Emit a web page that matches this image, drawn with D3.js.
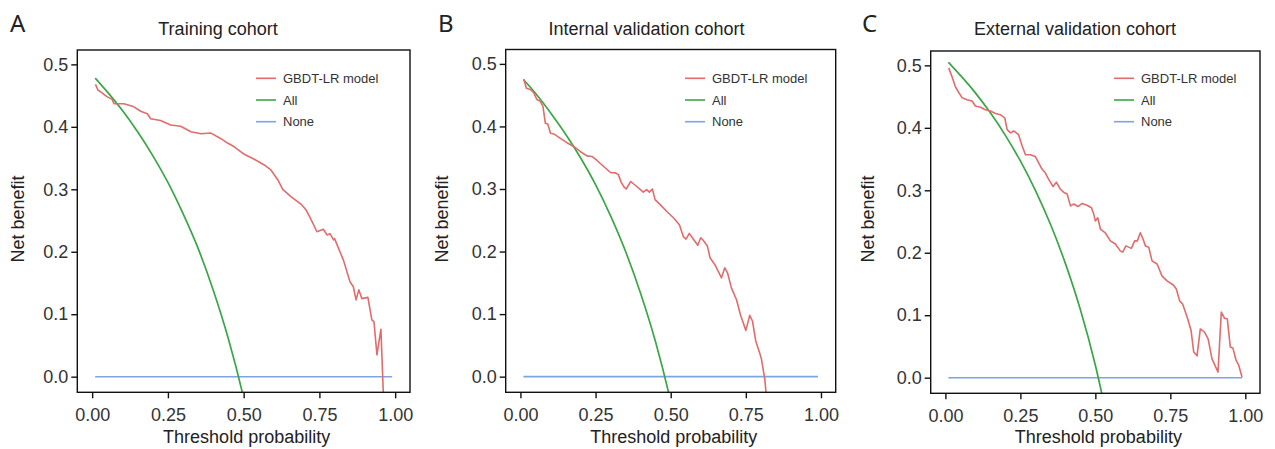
<!DOCTYPE html>
<html>
<head>
<meta charset="utf-8">
<script src="https://cdn.jsdelivr.net/npm/d3@7"></script>
<style>
body { margin: 0; background: #fff; }
text { font-family: "Liberation Sans", Arial, sans-serif; }
</style>
</head>
<body>
<svg id="chart" width="1275" height="449"></svg>
<script>
var panelLetters = ["A", "B", "C"];
var panelTitles = ["Training cohort", "Internal validation cohort", "External validation cohort"];
var seriesNames = ["GBDT-LR model", "All", "None"];
var xTicks = [0, 0.25, 0.5, 0.75, 1];
var yTicks = [0, 0.1, 0.2, 0.3, 0.4, 0.5];

// treat-all curve, read at these thresholds
var allThresholds = [0.01, 0.05, 0.10, 0.15, 0.20, 0.25, 0.30, 0.35, 0.40, 0.45, 0.50, 0.55];
var allTraining = [0.478, 0.456, 0.426, 0.392, 0.354, 0.311, 0.261, 0.205, 0.138, 0.060, -0.034, -0.149];
var allInternal = [0.475, 0.453, 0.422, 0.388, 0.350, 0.307, 0.257, 0.200, 0.133, 0.055, -0.040, -0.156];
var allExternal = [0.505, 0.484, 0.456, 0.424, 0.388, 0.347, 0.300, 0.246, 0.183, 0.109, 0.020, -0.089];

// treat-none line
var noneThresholds = [0.01, 0.99];
var noneValues = [0, 0];

// GBDT-LR model curves [threshold, net benefit]
var modelTraining = [
  [0.011, 0.468], [0.019, 0.459], [0.028, 0.456], [0.05, 0.448], [0.066, 0.444], [0.072, 0.437],
  [0.105, 0.437], [0.138, 0.432], [0.16, 0.425], [0.182, 0.421], [0.193, 0.413], [0.226, 0.41],
  [0.259, 0.403], [0.292, 0.401], [0.326, 0.392], [0.359, 0.389], [0.392, 0.39], [0.425, 0.381],
  [0.447, 0.374], [0.469, 0.368], [0.502, 0.356], [0.535, 0.348], [0.568, 0.339], [0.59, 0.331],
  [0.613, 0.315], [0.629, 0.30], [0.657, 0.288], [0.69, 0.276], [0.706, 0.267], [0.723, 0.251],
  [0.742, 0.232], [0.763, 0.236], [0.775, 0.227], [0.785, 0.229], [0.797, 0.219], [0.80, 0.221],
  [0.829, 0.187], [0.851, 0.152], [0.862, 0.144], [0.871, 0.123], [0.88, 0.139], [0.89, 0.125],
  [0.91, 0.127], [0.923, 0.091], [0.93, 0.088], [0.94, 0.035], [0.953, 0.076], [0.962, -0.04]
];
var modelInternal = [
  [0.011, 0.4755], [0.02, 0.461], [0.033, 0.459], [0.044, 0.454], [0.055, 0.443], [0.066, 0.44],
  [0.075, 0.432], [0.083, 0.405], [0.091, 0.404], [0.1, 0.389], [0.111, 0.388], [0.133, 0.381],
  [0.155, 0.374], [0.177, 0.368], [0.199, 0.36], [0.221, 0.353], [0.238, 0.352], [0.254, 0.346],
  [0.277, 0.336], [0.301, 0.326], [0.315, 0.326], [0.326, 0.323], [0.335, 0.311], [0.345, 0.303],
  [0.352, 0.30], [0.367, 0.312], [0.387, 0.304], [0.409, 0.295], [0.42, 0.299], [0.429, 0.295],
  [0.439, 0.30], [0.448, 0.283], [0.465, 0.275], [0.487, 0.264], [0.509, 0.254], [0.529, 0.243],
  [0.542, 0.224], [0.551, 0.22], [0.562, 0.229], [0.575, 0.22], [0.59, 0.21], [0.60, 0.222],
  [0.608, 0.218], [0.622, 0.209], [0.631, 0.19], [0.647, 0.179], [0.669, 0.158], [0.68, 0.174],
  [0.689, 0.166], [0.702, 0.142], [0.719, 0.123], [0.732, 0.099], [0.75, 0.074], [0.763, 0.098],
  [0.772, 0.089], [0.783, 0.057], [0.796, 0.038], [0.802, 0.028], [0.813, -0.004], [0.82, -0.04]
];
var modelExternal = [
  [0.011, 0.496], [0.022, 0.482], [0.033, 0.466], [0.044, 0.457], [0.056, 0.448], [0.072, 0.445],
  [0.089, 0.443], [0.10, 0.435], [0.117, 0.433], [0.133, 0.429], [0.15, 0.427], [0.167, 0.423],
  [0.183, 0.421], [0.198, 0.416], [0.206, 0.397], [0.217, 0.392], [0.228, 0.395], [0.244, 0.389],
  [0.256, 0.371], [0.267, 0.357], [0.283, 0.357], [0.30, 0.354], [0.311, 0.344], [0.322, 0.334],
  [0.333, 0.328], [0.344, 0.318], [0.359, 0.306], [0.37, 0.313], [0.383, 0.302], [0.394, 0.297],
  [0.406, 0.294], [0.417, 0.275], [0.428, 0.278], [0.442, 0.274], [0.456, 0.279], [0.472, 0.276],
  [0.487, 0.272], [0.494, 0.263], [0.50, 0.251], [0.508, 0.256], [0.517, 0.238], [0.533, 0.232],
  [0.55, 0.219], [0.567, 0.214], [0.583, 0.203], [0.591, 0.201], [0.602, 0.211], [0.62, 0.207],
  [0.631, 0.219], [0.64, 0.219], [0.65, 0.232], [0.659, 0.222], [0.667, 0.211], [0.678, 0.209],
  [0.689, 0.187], [0.706, 0.182], [0.722, 0.163], [0.739, 0.155], [0.761, 0.148], [0.77, 0.142],
  [0.781, 0.123], [0.791, 0.118], [0.806, 0.097], [0.819, 0.076], [0.828, 0.041], [0.839, 0.035],
  [0.85, 0.078], [0.864, 0.073], [0.876, 0.062], [0.889, 0.03], [0.909, 0.009], [0.92, 0.105],
  [0.931, 0.095], [0.94, 0.094], [0.95, 0.049], [0.959, 0.047], [0.969, 0.028], [0.978, 0.02],
  [0.989, 0.001]
];

var modelSeries = [modelTraining, modelInternal, modelExternal];
var allSeries = [allTraining, allInternal, allExternal];
var colors = ["#e06c6c", "#3aa646", "#7fa3e3"];

// frame boxes and text positions for each panel
var layout = [
  { left: 77.3, right: 410, top: 50, bottom: 392.3, letterX: 10, titleX: 218, yLabelX: 24, legendX: 256 },
  { left: 505.7, right: 835.7, top: 49.5, bottom: 392.3, letterX: 438, titleX: 646.5, yLabelX: 448, legendX: 685 },
  { left: 930.7, right: 1260, top: 51, bottom: 393.3, letterX: 862, titleX: 1075, yLabelX: 874, legendX: 1114 }
];

var svg = d3.select("#chart");

for (var i = 0; i < 3; i++) {
    drawPanel(i);
}

function drawPanel(i) {
    var L = layout[i];
    var x = d3.scaleLinear().domain([-0.049, 1.049]).range([L.left, L.right]);
    var y = d3.scaleLinear().domain([-0.025, 0.523]).range([L.bottom, L.top]);
    var g = svg.append("g");

    g.append("clipPath").attr("id", "clip" + i)
      .append("rect")
      .attr("x", L.left).attr("y", L.top)
      .attr("width", L.right - L.left).attr("height", L.bottom - L.top);

    var line = d3.line()
      .x(function(d) { return x(d[0]); })
      .y(function(d) { return y(d[1]); });

    var plot = g.append("g").attr("clip-path", "url(#clip" + i + ")");

    // none
    plot.append("path")
      .datum(noneThresholds.map(function(t, k) { return [t, noneValues[k]]; }))
      .attr("d", line)
      .attr("fill", "none").attr("stroke", colors[2]).attr("stroke-width", 1.6);

    // all
    plot.append("path")
      .datum(allThresholds.map(function(t, k) { return [t, allSeries[i][k]]; }))
      .attr("d", line.curve(d3.curveMonotoneX))
      .attr("fill", "none").attr("stroke", colors[1]).attr("stroke-width", 1.7);
    line.curve(d3.curveLinear);

    // model
    plot.append("path")
      .datum(modelSeries[i])
      .attr("d", line)
      .attr("fill", "none").attr("stroke", colors[0]).attr("stroke-width", 1.6)
      .attr("stroke-linejoin", "round");

    // frame
    g.append("rect")
      .attr("x", L.left).attr("y", L.top)
      .attr("width", L.right - L.left).attr("height", L.bottom - L.top)
      .attr("fill", "none").attr("stroke", "#111").attr("stroke-width", 1.4);

    // axes
    var xAxis = g.append("g")
      .attr("transform", "translate(0," + L.bottom + ")")
      .call(d3.axisBottom(x).tickValues(xTicks).tickSize(6).tickPadding(10)
        .tickFormat(d3.format(".2f")).tickSizeOuter(0));
    var yAxis = g.append("g")
      .attr("transform", "translate(" + L.left + ",0)")
      .call(d3.axisLeft(y).tickValues(yTicks).tickSize(6).tickPadding(3)
        .tickFormat(d3.format(".1f")).tickSizeOuter(0));
    [xAxis, yAxis].forEach(function(a) {
        a.select(".domain").remove();
        a.selectAll(".tick line").attr("stroke", "#111").attr("stroke-width", 1.4);
        a.selectAll(".tick text").attr("fill", "#333").style("font-size", "18px")
          .style("font-family", "'Liberation Sans', Arial, sans-serif");
    });

    // titles and labels
    g.append("text")
      .attr("x", L.letterX).attr("y", 32)
      .style("font-family", "'Noto Sans', sans-serif").style("font-size", "24px")
      .attr("fill", "#222").text(panelLetters[i]);

    g.append("text")
      .attr("x", L.titleX).attr("y", 35).attr("text-anchor", "middle")
      .style("font-size", "18px").attr("fill", "#222").text(panelTitles[i]);

    g.append("text")
      .attr("x", (L.left + L.right) / 2 + 3).attr("y", 443).attr("text-anchor", "middle")
      .style("font-size", "18px").attr("fill", "#222").text("Threshold probability");

    g.append("text")
      .attr("transform", "translate(" + L.yLabelX + "," + 219 + ") rotate(-90)")
      .attr("text-anchor", "middle")
      .style("font-size", "18px").attr("fill", "#222").text("Net benefit");

    // legend
    var leg = g.append("g");
    seriesNames.forEach(function(name, k) {
        var ly = 78.3 + k * 21.7;
        leg.append("line")
          .attr("x1", L.legendX).attr("x2", L.legendX + 20)
          .attr("y1", ly).attr("y2", ly)
          .attr("stroke", colors[k]).attr("stroke-width", 1.6);
        leg.append("text")
          .attr("x", L.legendX + 27).attr("y", ly + 4.6)
          .style("font-size", "13px").attr("fill", "#333").text(name);
    });
}
</script>
</body>
</html>
